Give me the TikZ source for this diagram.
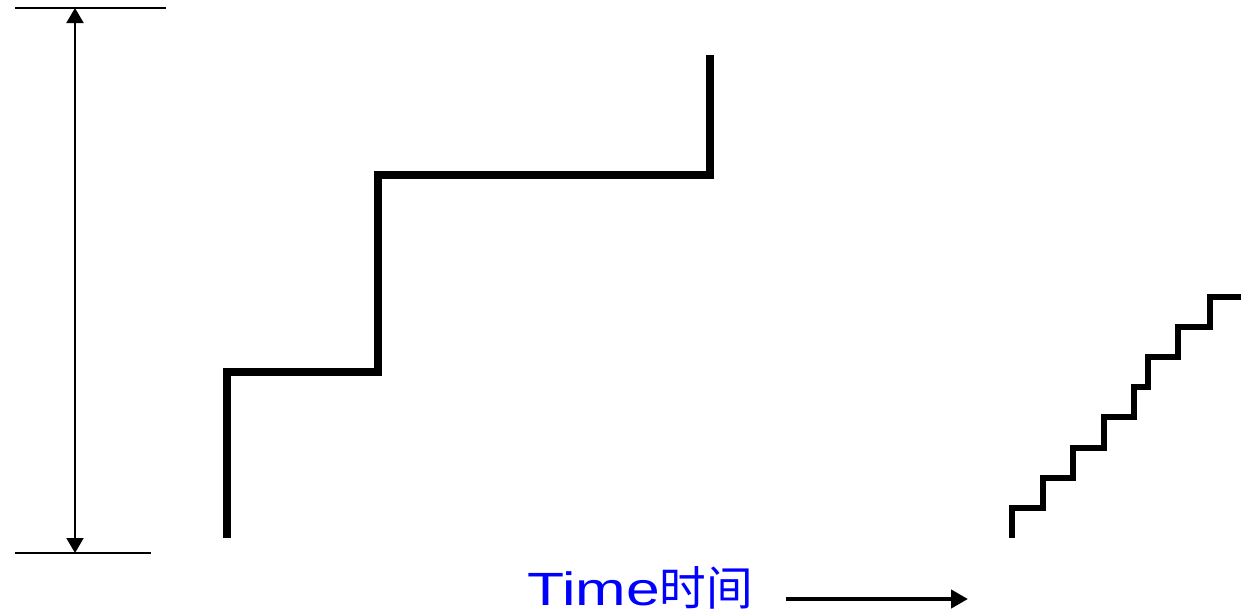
\documentclass[tikz,border=0pt]{standalone}
\usepackage{fontspec}
\usepackage{graphicx}
\setmainfont{Liberation Sans}
\newfontfamily\cjk{Noto Sans CJK SC}
\usetikzlibrary{arrows.meta}
\begin{document}
\begin{tikzpicture}[x=0.75pt,y=-0.75pt,
  stair/.style={line width=5.6pt,line cap=butt,line join=miter},
  smallstair/.style={line width=5.2pt,line cap=butt,line join=miter},
  dimline/.style={line width=1.5pt},
  dimarrow/.style={line width=1.5pt,{Triangle[length=11.25pt,width=12.75pt]}-{Triangle[length=11.25pt,width=12.75pt]}},
  timearrow/.style={line width=3.4pt,-{Triangle[length=12.75pt,width=13.5pt]}},
  label/.style={inner sep=0pt,anchor=base west,text=blue,font=\fontsize{35pt}{40pt}\selectfont}]
\useasboundingbox (0,0) rectangle (1241,614);
% dimension
\coordinate (tl) at (15,8);
\coordinate (tr) at (166,8);
\coordinate (bl) at (15,553);
\coordinate (br) at (151,553);
\coordinate (dtop) at (75,8);
\coordinate (dbot) at (75,553);
\draw[dimline] (tl) -- (tr);
\draw[dimline] (bl) -- (br);
\draw[dimarrow] (dbot) -- (dtop);
% big staircase
\draw[stair] (227,538) -- (227,372) -- (378,372) -- (378,175) -- (710,175) -- (710,55);
% small staircase
\draw[smallstair] (1012,538) -- (1012,508) -- (1043,508) -- (1043,478) -- (1073,478) -- (1073,448)
  -- (1104,448) -- (1104,417) -- (1134,417) -- (1134,387) -- (1148,387) -- (1148,357)
  -- (1178,357) -- (1178,327) -- (1210,327) -- (1210,297) -- (1241,297);
% time label and arrow
\node[label] (time) at (527,605) {\scalebox{1.3}[1]{Time}{\cjk 时间}};
\coordinate (ta) at (786,599);
\coordinate (tb) at (968,599);
\draw[timearrow] (ta) -- (tb);
\end{tikzpicture}
\end{document}
